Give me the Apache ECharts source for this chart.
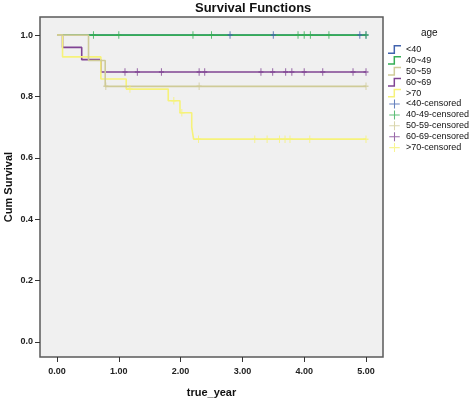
<!DOCTYPE html>
<html>
<head>
<meta charset="utf-8">
<script src="https://cdn.jsdelivr.net/npm/echarts@6/dist/echarts.min.js"></script>
<style>
html,body{margin:0;padding:0;background:#fff;}
#c{width:472px;height:400px;}
</style>
</head>
<body>
<div id="c"></div>
<script>
// ---- data ----
const groupNames = ['<40', '40~49', '50~59', '60~69', '>70'];
const censoredNames = ['<40-censored', '40-49-censored', '50-59-censored', '60-69-censored', '>70-censored'];
const xTicks = [0, 1, 2, 3, 4, 5];
const yTicks = [0, 0.2, 0.4, 0.6, 0.8, 1.0];

// survival step curves [time, cum survival]
const curveLt40 = [[0, 1], [5, 1]];
const curve40_49 = [[0, 1], [5, 1]];
const curve50_59 = [[0, 1], [0.51, 0.917], [0.78, 0.833], [5, 0.833]];
const curve60_69 = [[0, 1], [0.09, 0.96], [0.40, 0.92], [0.71, 0.88], [5, 0.88]];
const curveGt70 = [[0, 1], [0.09, 0.929], [0.71, 0.857], [1.12, 0.824], [1.80, 0.786], [1.99, 0.747], [2.18, 0.70], [2.21, 0.661], [5, 0.661]];

// censored observations [time, cum survival]
const censLt40 = [[2.80, 1], [3.50, 1], [4.90, 1], [5.0, 1]];
const cens40_49 = [[0.59, 1], [1.00, 1], [2.20, 1], [2.50, 1], [3.90, 1], [4.00, 1], [4.10, 1], [4.40, 1], [5.0, 1]];
const cens50_59 = [[0.79, 0.833], [2.30, 0.833], [5.0, 0.833]];
const cens60_69 = [[1.10, 0.88], [1.30, 0.88], [1.69, 0.88], [2.30, 0.88], [2.39, 0.88], [3.30, 0.88], [3.49, 0.88], [3.70, 0.88], [3.80, 0.88], [4.00, 0.88], [4.30, 0.88], [4.79, 0.88], [5.0, 0.88]];
const censGt70 = [[1.18, 0.824], [1.89, 0.786], [2.02, 0.747], [2.29, 0.661], [3.20, 0.661], [3.40, 0.661], [3.60, 0.661], [3.69, 0.661], [3.77, 0.661], [4.09, 0.661], [5.0, 0.661]];

const colors = ['#4163AE', '#35AE55', '#CFCB98', '#804493', '#F6F27A'];
const curves = [curveLt40, curve40_49, curve50_59, curve60_69, curveGt70];
const censors = [censLt40, cens40_49, cens50_59, cens60_69, censGt70];
const zOrder = [2, 3, 6, 4, 5];

const stepIcon = 'path://M0,9 L6,9 L6,1 L14,1 L14,2.6 L7.6,2.6 L7.6,10.6 L0,10.6 Z';
const crossIcon = 'path://M6.3,0 L7.7,0 L7.7,5.3 L14,5.3 L14,6.7 L7.7,6.7 L7.7,12 L6.3,12 L6.3,6.7 L0,6.7 L0,5.3 L6.3,5.3 Z';
const markSymbol = 'path://M4,0 L6,0 L6,4 L10,4 L10,6 L6,6 L6,10 L4,10 L4,6 L0,6 L0,4 L4,4 Z';

const series = [];
groupNames.forEach((n, i) => {
  series.push({
    name: n, type: 'line', step: 'end', data: curves[i],
    showSymbol: false, symbol: 'none', z: zOrder[i],
    lineStyle: { color: colors[i], width: 1.6 }, itemStyle: { color: colors[i] },
    animation: false
  });
});
censoredNames.forEach((n, i) => {
  series.push({
    name: n, type: 'scatter', data: censors[i],
    symbol: markSymbol, symbolSize: [5, 7.5], z: zOrder[i] + 5,
    itemStyle: { color: colors[i] }, animation: false
  });
});

const legendData = groupNames.map(n => ({ name: n, icon: stepIcon }))
  .concat(censoredNames.map(n => ({ name: n, icon: crossIcon })));

const chart = echarts.init(document.getElementById('c'), null, { renderer: 'canvas' });
chart.setOption({
  backgroundColor: '#ffffff',
  animation: false,
  title: [
    { text: 'Survival Functions', left: 190, top: -3,
      textStyle: { fontFamily: 'Liberation Sans', fontSize: 13, fontWeight: 'bold', color: '#111' } },
    { text: 'age', left: 416, top: 23,
      textStyle: { fontFamily: 'Liberation Sans', fontSize: 10, fontWeight: 'normal', color: '#111' } }
  ],
  legend: {
    orient: 'vertical', left: 383, top: 40,
    itemWidth: 13, itemHeight: 9, itemGap: 1.9,
    data: legendData,
    textStyle: { fontFamily: 'Liberation Sans', fontSize: 9, color: '#111', lineHeight: 9 },
    selectedMode: false
  },
  grid: {
    left: 40, right: 89, top: 17, bottom: 43,
    containLabel: false, outerBoundsMode: 'none',
    show: true, backgroundColor: '#F0F0F0', borderColor: '#5a5a5a', borderWidth: 1.5
  },
  xAxis: {
    type: 'value', min: -0.275, max: 5.275,
    name: 'true_year', nameLocation: 'middle', nameGap: 30,
    nameTextStyle: { fontFamily: 'Liberation Sans', fontSize: 11, fontWeight: 'bold', color: '#111' },
    axisLine: { show: false, onZero: false },
    axisTick: { show: true, inside: false, customValues: xTicks, length: 5, lineStyle: { color: '#333', width: 1 } },
    axisLabel: { customValues: xTicks, formatter: v => v.toFixed(2), margin: 10,
      fontFamily: 'Liberation Sans', fontSize: 9, fontWeight: 'bold', color: '#222' },
    splitLine: { show: false }
  },
  yAxis: {
    type: 'value', min: -0.049, max: 1.059,
    name: 'Cum Survival', nameLocation: 'middle', nameGap: 26, nameRotate: 90, nameMoveOverlap: false,
    nameTextStyle: { fontFamily: 'Liberation Sans', fontSize: 11, fontWeight: 'bold', color: '#111' },
    axisLine: { show: false, onZero: false },
    axisTick: { show: true, inside: false, customValues: yTicks, length: 5, lineStyle: { color: '#333', width: 1 } },
    axisLabel: { customValues: yTicks, formatter: v => v.toFixed(1), margin: 7,
      fontFamily: 'Liberation Sans', fontSize: 9, fontWeight: 'bold', color: '#222' },
    splitLine: { show: false }
  },
  series: series
});
</script>
</body>
</html>
